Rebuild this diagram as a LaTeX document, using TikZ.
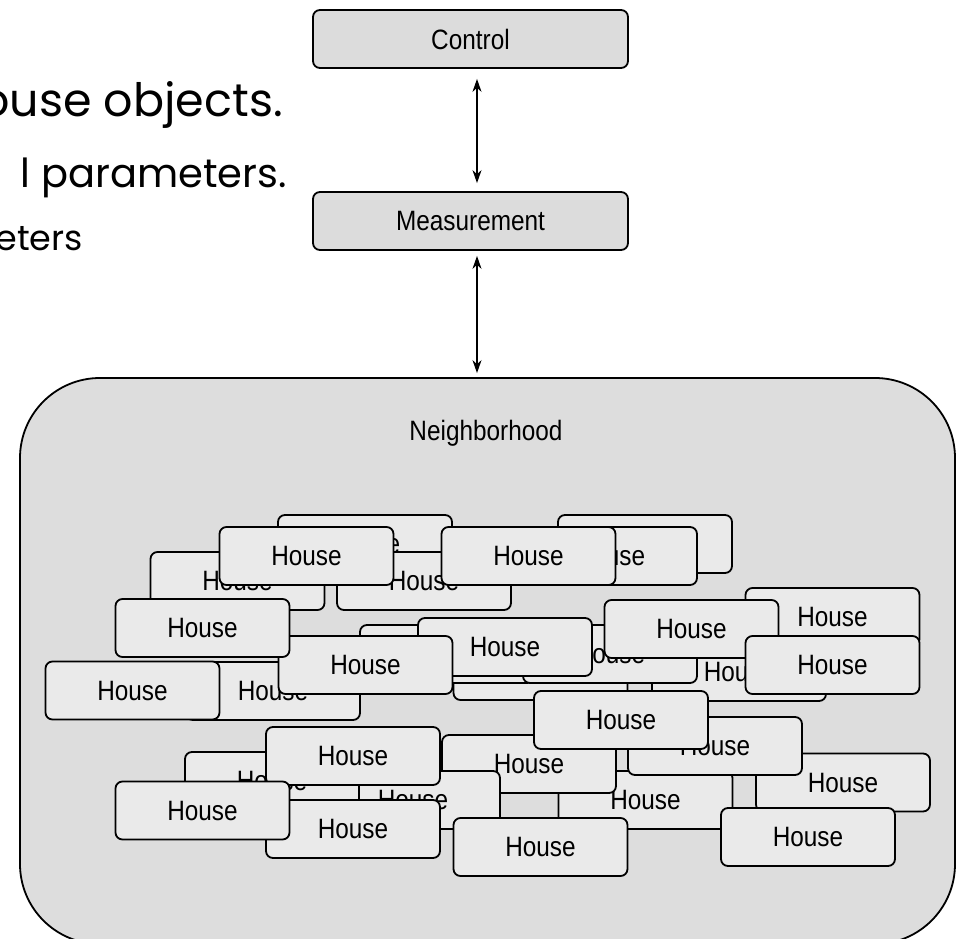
\documentclass[tikz,border=0pt]{standalone}
\usepackage{fontspec}
\usetikzlibrary{arrows.meta}
\newfontfamily\hfont[FakeStretch=0.87]{Liberation Sans}
\newfontfamily\slidefont{Poppins}
\definecolor{nbfill}{HTML}{DDDDDD}
\definecolor{hfill}{HTML}{EAEAEA}
\definecolor{cfill}{HTML}{DCDCDC}
\begin{document}
\begin{tikzpicture}[x=1pt,y=-1pt,
  house/.style={draw=black, line width=1.8pt, fill=hfill, rounded corners=7pt,
    minimum width=174pt, minimum height=58pt, inner sep=0pt,
    font=\hfont\fontsize{28}{30}\selectfont},
  ctrlbox/.style={house, fill=cfill, minimum width=315pt},
  nbhbox/.style={draw=black, line width=1.8pt, fill=nbfill, rounded corners=80pt,
    minimum width=935pt, minimum height=566pt, inner sep=0pt},
  lbl/.style={inner sep=0pt, font=\hfont\fontsize{28}{30}\selectfont},
  arr/.style={{Stealth[length=13pt,width=9pt]}-{Stealth[length=13pt,width=9pt]}, line width=1.5pt},
  slide/.style={inner sep=0pt, anchor=base east, text=black}
]
\useasboundingbox (0,0) rectangle (959,939);
\fill[white] (0,0) rectangle (959,939);

% slide text (cut off at the left edge of the picture)
\node[slide, font=\slidefont\fontsize{46}{50}\selectfont] (t1) at (283,117) {ouse objects.};
\node[slide, font=\slidefont\fontsize{40}{44}\selectfont] (t2) at (287,187) {l parameters.};
\node[slide, font=\slidefont\fontsize{35}{38}\selectfont] (t3) at (83,250) {eters};

% top boxes
\node[ctrlbox] (ctrl) at (470.5,39) {Control};
\node[ctrlbox] (meas) at (470.5,221) {Measurement};

% neighborhood
\node[nbhbox] (nbh) at (487.5,661) {};
\node[lbl] (nbhlabel) at (486,433) {Neighborhood};

\draw[arr, shorten <=10pt, shorten >=8pt] ([xshift=6.5pt]ctrl.south) -- ([xshift=6.5pt]meas.north);
\draw[arr, shorten <=5pt, shorten >=4pt] ([xshift=6.5pt]meas.south) -- ([xshift=6.5pt]meas.south |- nbh.north);

% houses, back to front
\node[house] (hG) at (645,544) {House};
\node[house] (hF) at (610,556) {House};
\node[house] (hC) at (365,544) {House};
\node[house] (hD) at (424,581) {House};
\node[house] (hE) at (237.5,581) {House};
\node[house] (hA) at (306.5,556) {House};
\node[house] (hB) at (528.5,556) {House};
\node[house] (hJ) at (273,691) {House};
\node[house] (hI) at (132.5,690.5) {House};
\node[house] (hN) at (540.5,671) {House};
\node[house] (hQ) at (739,672) {House};
\node[house] (hL) at (447,654) {House};
\node[house] (hO) at (610,654) {House};
\node[house] (hM) at (505,647) {House};
\node[house] (hK) at (365.5,665) {House};
\node[house] (hH) at (202.5,628) {House};
\node[house] (hS) at (832.5,617) {House};
\node[house] (hP) at (691.5,629) {House};
\node[house] (hT) at (832.5,665) {House};
\node[house] (hW) at (645.5,800) {House};
\node[house] (hV) at (843,782.5) {House};
\node[house] (hU) at (715,746) {House};
\node[house] (hX) at (529,764) {House};
\node[house] (hR) at (621,720) {House};
\node[house] (hAC) at (413,800) {House};
\node[house] (hAD) at (272,781) {House};
\node[house] (hAA) at (353,756) {House};
\node[house] (hAB) at (353,829) {House};
\node[house] (hAE) at (202.5,810.5) {House};
\node[house] (hY) at (540.5,847) {House};
\node[house] (hZ) at (808,837) {House};
\end{tikzpicture}
\end{document}
